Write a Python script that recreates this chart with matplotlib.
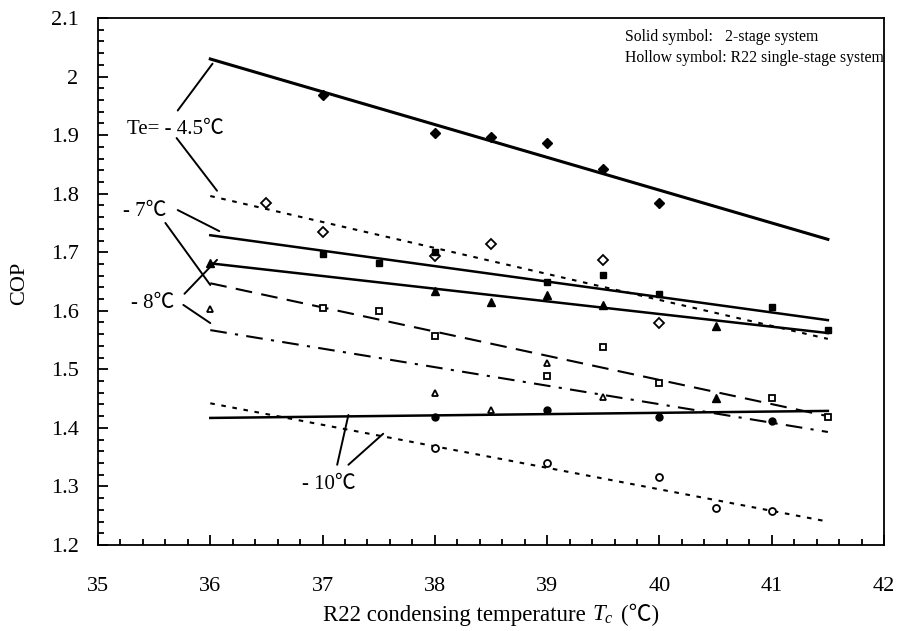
import numpy as np
import matplotlib
matplotlib.use("Agg")
import matplotlib.pyplot as plt
from matplotlib.ticker import MultipleLocator

plt.rcParams['font.family'] = ['Liberation Serif', 'Noto Sans CJK SC', 'DejaVu Sans']
plt.rcParams['mathtext.fontset'] = 'custom'
plt.rcParams['mathtext.it'] = 'Liberation Serif:italic'
plt.rcParams['mathtext.rm'] = 'Liberation Serif'

# fitted lines (start / end of condensing temperature range)
line_x = [36, 41.5]
l45_2s = [2.030, 1.722]
l45_1s = [1.796, 1.552]
l7_2s = [1.729, 1.584]
l7_1s = [1.647, 1.420]
l8_2s = [1.681, 1.562]
l8_1s = [1.567, 1.393]
l10_2s = [1.417, 1.429]
l10_1s = [1.442, 1.240]

# measured points, solid = 2-stage, hollow = R22 single-stage
x45_2s = [37, 38, 38.5, 39, 39.5, 40]
y45_2s = [1.968, 1.904, 1.897, 1.887, 1.842, 1.784]
x45_1s = [36.5, 37, 38, 38.5, 39.5, 40]
y45_1s = [1.784, 1.735, 1.693, 1.714, 1.687, 1.579]

x7_2s = [37, 37.5, 38, 39, 39.5, 40, 41, 41.5]
y7_2s = [1.697, 1.681, 1.701, 1.649, 1.661, 1.629, 1.607, 1.567]
x7_1s = [37, 37.5, 38, 39, 39.5, 40, 41, 41.5]
y7_1s = [1.605, 1.600, 1.557, 1.489, 1.538, 1.477, 1.451, 1.418]

x8_2s = [36, 38, 38.5, 39, 39.5, 40.5]
y8_2s = [1.682, 1.634, 1.615, 1.627, 1.610, 1.574]
x8_1s = [36, 38, 38.5, 39, 39.5]
y8_1s = [1.603, 1.460, 1.431, 1.511, 1.453]
x8_extra = [40.5]
y8_extra = [1.451]

x10_2s = [38, 39, 40, 41]
y10_2s = [1.418, 1.430, 1.418, 1.412]
x10_1s = [38, 39, 40, 40.5, 41]
y10_1s = [1.366, 1.340, 1.316, 1.263, 1.258]

fig = plt.figure(figsize=(9, 6.31), dpi=100)
ax = fig.add_axes([98/900, 86/631, 786/900, 527/631])

lw = 1.8
dot = (0, (2.2, 3.2))
ax.plot(line_x, l45_2s, color='black', lw=2.2)
ax.plot(line_x, l45_1s, color='black', lw=1.5, ls=dot)
ax.plot(line_x, l7_2s, color='black', lw=lw)
ax.plot(line_x, l7_1s, color='black', lw=1.5, ls=(0, (8, 4.5)))
ax.plot(line_x, l8_2s, color='black', lw=lw)
ax.plot(line_x, l8_1s, color='black', lw=1.5, ls=(0, (8, 4, 1.5, 4)))
ax.plot(line_x, l10_2s, color='black', lw=lw)
ax.plot(line_x, l10_1s, color='black', lw=1.5, ls=dot)

ms = 5
ax.plot(x45_2s, y45_2s, 'D', color='black', ms=ms, ls='none')
ax.plot(x45_1s, y45_1s, 'D', mfc='white', mec='black', mew=1.3, ms=ms, ls='none')
ax.plot(x7_2s, y7_2s, 's', color='black', ms=ms, ls='none')
ax.plot(x7_1s, y7_1s, 's', mfc='white', mec='black', mew=1.3, ms=ms, ls='none')
ax.plot(x8_2s, y8_2s, '^', color='black', ms=ms + 1, ls='none')
ax.plot(x8_1s, y8_1s, '^', mfc='white', mec='black', mew=1.3, ms=ms, ls='none')
ax.plot(x8_extra, y8_extra, '^', color='black', ms=ms + 1, ls='none')
ax.plot(x10_2s, y10_2s, 'o', color='black', ms=ms, ls='none')
ax.plot(x10_1s, y10_1s, 'o', mfc='white', mec='black', mew=1.3, ms=ms, ls='none')

# labels with leader lines
fs_ann = 15
ax.text(35.26, 1.910, 'Te= - 4.5\u2103', fontsize=fs_ann, va='center', ha='left')
ax.text(35.22, 1.769, '- 7\u2103', fontsize=fs_ann, va='center', ha='left')
ax.text(35.29, 1.613, '- 8\u2103', fontsize=fs_ann, va='center', ha='left')
ax.text(37.06, 1.304, '- 10\u2103', fontsize=fs_ann, va='center', ha='center')

leaders = [
    ((35.71, 1.942), (36.02, 2.022)),
    ((35.70, 1.895), (36.06, 1.805)),
    ((35.71, 1.772), (36.08, 1.736)),
    ((35.60, 1.750), (36.00, 1.644)),
    ((35.77, 1.629), (36.06, 1.687)),
    ((35.76, 1.610), (36.00, 1.579)),
    ((37.13, 1.337), (37.23, 1.422)),
    ((37.23, 1.337), (37.54, 1.390)),
]
for (a, b) in leaders:
    ax.annotate('', xy=b, xytext=a,
                arrowprops=dict(arrowstyle='-', color='black', lw=1.4,
                                shrinkA=0, shrinkB=0))

ax.text(39.69, 2.067, 'Solid symbol:', fontsize=11.3, va='center')
ax.text(40.58, 2.067, '2-stage system', fontsize=11.3, va='center')
ax.text(39.69, 2.032, 'Hollow symbol: R22 single-stage system', fontsize=11.3, va='center')

ax.set_xlim(35, 42)
ax.set_ylim(1.2, 2.1)
ax.xaxis.set_major_locator(MultipleLocator(1))
ax.xaxis.set_minor_locator(MultipleLocator(0.2))
ax.yaxis.set_minor_locator(MultipleLocator(0.02))
ax.set_yticks(np.arange(1.2, 2.11, 0.1))
ax.set_yticklabels(['1.2', '1.3', '1.4', '1.5', '1.6', '1.7', '1.8', '1.9', '2', '2.1'])
ax.tick_params(which='both', direction='in', top=False, right=False, width=1.3)
ax.tick_params(which='major', length=7)
ax.tick_params(which='minor', length=4)
ax.tick_params(axis='x', which='major', labelsize=16, pad=23)
ax.tick_params(axis='y', which='major', labelsize=16, pad=14)
for s in ax.spines.values():
    s.set_linewidth(1.3)

# x label in pieces so the degree sign comes from a font that has it
fs_lab = 16.5
yb = -0.1442
t1 = ax.text(0.27, yb, 'R22 condensing temperature', transform=ax.transAxes,
             fontsize=fs_lab, va='baseline', ha='left')
t2 = ax.annotate('$T_c$', xy=(1, yb), xycoords=(t1, 'axes fraction'),
                 xytext=(4.5, 0), textcoords='offset points',
                 fontsize=fs_lab, va='baseline', ha='left')
t3 = ax.annotate('(\u2103)', xy=(1, yb), xycoords=(t2, 'axes fraction'),
                 xytext=(5, 0), textcoords='offset points',
                 fontsize=fs_lab, va='baseline', ha='left')
fig.canvas.draw()
b1 = t1.get_window_extent()
b3 = t3.get_window_extent()
ax_bb = ax.get_window_extent()
left = (ax_bb.x0 + ax_bb.x1) / 2 - (b3.x1 - b1.x0) / 2
t1.set_x((left - ax_bb.x0) / ax_bb.width)

fig.text(20/900, 1 - 283/631, 'COP', rotation=90, fontsize=16,
         ha='center', va='center')

fig.savefig('out.png', dpi=100)
